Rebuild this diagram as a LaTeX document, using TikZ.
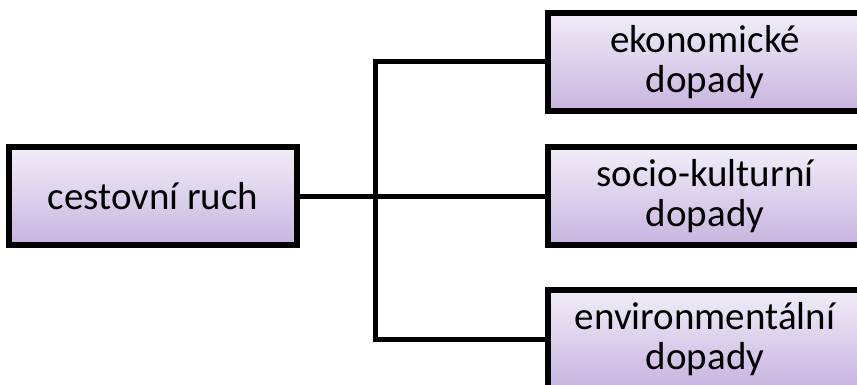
\documentclass[tikz,border=0pt]{standalone}
\usepackage{fontspec}
\setmainfont{Carlito}
\usetikzlibrary{positioning, calc}
\definecolor{boxtop}{HTML}{F1EDF8}
\definecolor{boxbot}{HTML}{C8B4E0}
\tikzset{
  topic/.style={draw=black, line width=5.5pt, top color=boxtop, bottom color=boxbot,
    minimum height=98pt, inner sep=0pt, align=center,
    font=\fontsize{39}{40}\selectfont},
  link/.style={line width=5pt}
}

\begin{document}
\begin{tikzpicture}[x=1pt, y=-1pt]
        \useasboundingbox (0,0) rectangle (857,385);
        \clip (0,0) rectangle (857,385);
        \node[topic, minimum width=288pt] (ruch) at (153,196) {cestovní ruch};
        \node[topic, minimum width=314pt] (eko) at (705,62) {ekonomické\\dopady};
        \node[topic, minimum width=314pt] (soc) at (705,196) {socio-kulturní\\dopady};
        \node[topic, minimum width=314pt] (env) at (705,339) {environmentální\\dopady};
        \coordinate (split) at (375,196);
        \draw[link] (ruch.east) -- (soc.west);
        \draw[link] (eko.west) -| (split) |- (env.west);
      \end{tikzpicture}
\end{document}
